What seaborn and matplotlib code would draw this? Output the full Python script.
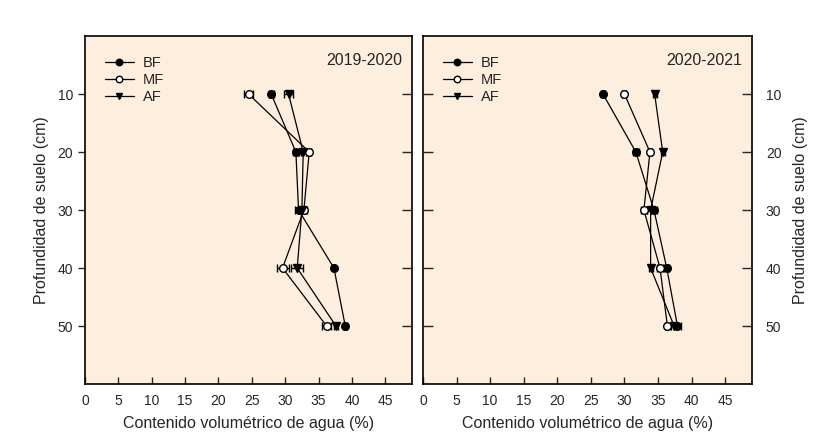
import numpy as np
import pandas as pd
import matplotlib
matplotlib.use("Agg")
import matplotlib.pyplot as plt
import seaborn as sns

sns.set_theme(style="ticks")
plt.rcParams['font.family'] = ['Liberation Sans', 'DejaVu Sans']

depth = [10, 20, 30, 40, 50]
series = ["BF", "MF", "AF"]
panels = ["2019-2020", "2020-2021"]

# 2019-2020
bf_1920 = [27.9, 31.6, 32.0, 37.3, 39.0]
mf_1920 = [24.5, 33.6, 32.8, 29.6, 36.2]
af_1920 = [30.5, 32.7, 32.5, 31.8, 37.6]
bf_1920_err = [0.4, 0.4, 0.5, 0.2, 0.3]
mf_1920_err = [0.6, 0.3, 0.5, 0.9, 0.7]
af_1920_err = [0.7, 0.4, 0.6, 0.9, 0.3]

# 2020-2021
bf_2021 = [26.8, 31.7, 34.4, 36.3, 37.9]
mf_2021 = [30.0, 33.8, 32.9, 35.3, 36.4]
af_2021 = [34.5, 35.7, 33.9, 33.9, 37.4]
bf_2021_err = [0.3, 0.4, 0.5, 0.4, 0.5]
mf_2021_err = [0.3, 0.3, 0.4, 0.4, 0.4]
af_2021_err = [0.3, 0.3, 0.5, 0.3, 0.5]

xticks = [0, 5, 10, 15, 20, 25, 30, 35, 40, 45]
yticks = [10, 20, 30, 40, 50]

data = {
    "2019-2020": {"BF": (bf_1920, bf_1920_err), "MF": (mf_1920, mf_1920_err), "AF": (af_1920, af_1920_err)},
    "2020-2021": {"BF": (bf_2021, bf_2021_err), "MF": (mf_2021, mf_2021_err), "AF": (af_2021, af_2021_err)},
}

rows = []
for p in panels:
    for s in series:
        vals, errs = data[p][s]
        for d, v, e in zip(depth, vals, errs):
            rows.append({"panel": p, "serie": s, "prof": d, "agua": v, "err": e})
df = pd.DataFrame(rows)

style = {
    "BF": dict(marker="o", markerfacecolor="black"),
    "MF": dict(marker="o", markerfacecolor="white"),
    "AF": dict(marker="v", markerfacecolor="black"),
}

bg = "#FDEEDD"
fig = plt.figure(figsize=(8.32, 4.46), dpi=100)
axL = fig.add_axes([85/832, 1-384/446, 327/832, 348/446])
axR = fig.add_axes([423/832, 1-384/446, 329/832, 348/446])

for ax, p in zip([axL, axR], panels):
    ax.set_facecolor(bg)
    sub = df[df.panel == p]
    for s in series:
        d = sub[sub.serie == s]
        ax.errorbar(d["agua"], d["prof"], xerr=d["err"], fmt="none", ecolor="black",
                    elinewidth=1, capsize=3, capthick=1, zorder=3)
        sns.lineplot(data=d, x="agua", y="prof", orient="y", ax=ax, color="black",
                     linewidth=0.9, markersize=5.5, markeredgecolor="black",
                     markeredgewidth=1, label=s, zorder=4, **style[s])
    ax.set_xlim(0, 49)
    ax.set_ylim(60, 0)
    ax.set_xticks(xticks)
    ax.set_yticks(yticks)
    for sp in ax.spines.values():
        sp.set_visible(True)
        sp.set_linewidth(1.2)
        sp.set_color("black")
    ax.set_xlabel("Contenido volumétrico de agua (%)", fontsize=11.5, labelpad=6)
    ax.tick_params(axis="x", direction="in", length=5, width=1, labelsize=10, pad=7, top=False)
    ax.text(0.97, 0.95, p, transform=ax.transAxes, ha="right", va="top", fontsize=11.5)
    ax.legend(loc="upper left", bbox_to_anchor=(0.02, 0.98), frameon=False,
              fontsize=10.5, handlelength=2.0, labelspacing=0.2, handletextpad=0.6,
              markerscale=0.85)

# left panel: labels on left, ticks out on left, in on right
axL.set_ylabel("Profundidad de suelo (cm)", fontsize=11.5, labelpad=6)
axL.tick_params(axis="y", direction="out", length=5, width=1, labelsize=10, left=True, right=False)
tw = axL.twinx()
tw.set_ylim(axL.get_ylim())
tw.set_yticks(yticks)
tw.tick_params(axis="y", direction="in", length=7, width=1, labelright=False, left=False, right=True)
for sp in tw.spines.values():
    sp.set_visible(False)
tw.grid(False)

# right panel: labels on right, ticks inside both sides
axR.yaxis.set_label_position("right")
axR.yaxis.tick_right()
axR.set_ylabel("Profundidad de suelo (cm)", fontsize=11.5, labelpad=8)
axR.tick_params(axis="y", direction="in", length=7, width=1, labelsize=10,
                left=True, right=True, labelleft=False, labelright=True, pad=10)

fig.savefig("out.png", dpi=100, facecolor="white")
